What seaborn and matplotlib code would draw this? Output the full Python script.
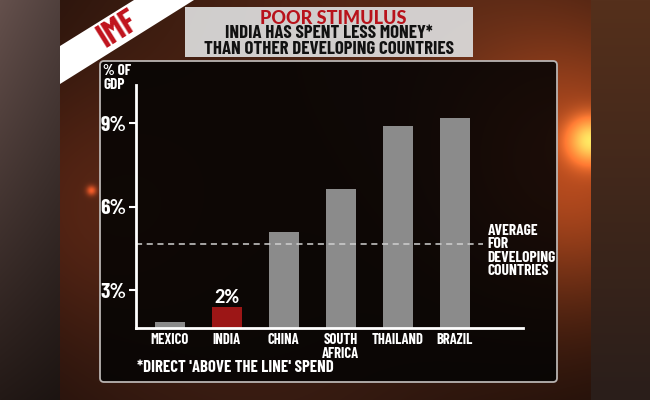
import numpy as np
import pandas as pd
import matplotlib
matplotlib.use("Agg")
import matplotlib.pyplot as plt
import seaborn as sns
from matplotlib.patches import FancyBboxPatch, Polygon, Rectangle

countries = ["MEXICO", "INDIA", "CHINA", "SOUTH\nAFRICA", "THAILAND", "BRAZIL"]
spend = [1.85, 2.39, 5.07, 6.62, 8.90, 9.19]
bar_colors = ["#8b8b8b", "#9c1616", "#8b8b8b", "#8b8b8b", "#8b8b8b", "#8b8b8b"]
average = 4.65
y_ticks = [3, 6, 9]
y_tick_labels = ["3%", "6%", "9%"]
india_label = "2%"

NARROW = ["Barlow Condensed", "Archivo Narrow", "DejaVu Sans"]
ROUND = ["Lato", "DejaVu Sans"]

W, H = 650, 400


def fx(x):
    return x / W


def fy(y):
    return 1 - y / H


sns.set_style("dark")
plt.rcParams["font.family"] = NARROW

fig = plt.figure(figsize=(6.5, 4), dpi=100)

# -------------------------
# background
# -------------------------
yy, xx = np.mgrid[0:H, 0:W]
img = np.zeros((H, W, 3))
img[:] = np.array([24, 12, 8]) / 255


def glow(cx, cy, r, color, strength):
    g = np.exp(-((xx - cx) ** 2 + (yy - cy) ** 2) / (2 * r ** 2))
    img[:] += strength * g[..., None] * np.array(color) / 255


glow(578, 170, 95, (170, 65, 20), 0.75)
glow(590, 140, 16, (255, 160, 70), 1.0)
glow(80, 210, 100, (85, 32, 15), 0.5)
glow(91, 190, 3.5, (230, 80, 30), 0.7)
glow(400, 0, 220, (130, 60, 30), 0.45)
glow(250, 400, 150, (60, 30, 20), 0.35)
img = np.clip(img, 0, 1)

left = np.linspace([100, 80, 76], [35, 25, 22], H)[:, None, :] / 255
img[:, :60] = left * np.linspace(1.0, 0.8, 60)[None, :, None]
right = np.linspace([85, 48, 28], [42, 30, 26], H)[:, None, :] / 255
img[:, 591:] = right
img = np.clip(img, 0, 1)

bg = fig.add_axes([0, 0, 1, 1])
bg.imshow(img, extent=[0, W, H, 0], aspect="auto")
bg.set_xlim(0, W)
bg.set_ylim(H, 0)
bg.axis("off")

# IMF stripe
stripe = Polygon([(60, 46), (134, 0), (194, 0), (60, 84)], closed=True,
                 facecolor="white", edgecolor="none")
bg.add_patch(stripe)
bg.text(118, 29, "IMF", color="#c0121c", fontsize=25, fontweight="bold",
        rotation=32, ha="center", va="center", family=NARROW)

# title box
bg.add_patch(Rectangle((185, 7), 288, 50, facecolor="#dcdcdc", alpha=0.93,
                       edgecolor="none"))
bg.text(333, 18, "POOR STIMULUS", color="#b8121b", fontsize=13,
        fontweight="black", ha="center", va="center", family=ROUND)
bg.text(328.5, 41.5, "INDIA HAS SPENT LESS MONEY*\nTHAN OTHER DEVELOPING COUNTRIES",
        color="#111111", fontsize=13.5, fontweight="bold", ha="center",
        va="center", multialignment="center", linespacing=0.92, family=NARROW)

# chart panel
bg.add_patch(FancyBboxPatch((100, 61), 457, 321,
                            boxstyle="round,pad=0,rounding_size=4",
                            facecolor="#050404", alpha=0.88, edgecolor="none"))
bg.add_patch(FancyBboxPatch((100, 61), 457, 321,
                            boxstyle="round,pad=0,rounding_size=4",
                            facecolor="none", edgecolor="#b9b4b2", linewidth=1.3))

bg.text(103, 78, "% OF\nGDP", color="white", fontsize=11, fontweight="bold",
        ha="left", va="center", linespacing=1.0, family=NARROW)
bg.text(137, 368, "*DIRECT 'ABOVE THE LINE' SPEND", color="white",
        fontsize=12, fontweight="bold", ha="left", va="center", family=NARROW)

# -------------------------
# bar chart
# -------------------------
ax = fig.add_axes([fx(136), fy(327.7), (523 - 136) / W, (327.7 - 85) / H])
ax.set_facecolor("none")

df = pd.DataFrame({"country": countries, "spend": spend})
sns.barplot(data=df, x="country", y="spend", hue="country",
            palette=bar_colors, legend=False, width=0.525, saturation=1,
            linewidth=0, ax=ax)

ax.set_xlim(-0.587, 6.19)
ax.set_ylim(1.645, 10.37)
ax.set_yticks(y_ticks)
ax.set_yticklabels(y_tick_labels)
ax.set_xlabel("")
ax.set_ylabel("")
ax.grid(False)

for side in ["top", "right"]:
    ax.spines[side].set_visible(False)
for side in ["left", "bottom"]:
    ax.spines[side].set_visible(True)
    ax.spines[side].set_color("white")
    ax.spines[side].set_linewidth(2)

ax.tick_params(axis="y", colors="white", length=5, width=1.5, direction="out",
               labelsize=15.5, pad=2, left=True)
ax.tick_params(axis="x", colors="white", length=0, labelsize=10.5, pad=4)
for lab in ax.get_yticklabels() + ax.get_xticklabels():
    lab.set_fontweight("bold")
    lab.set_linespacing(0.95)

ax.axhline(average, xmin=0, xmax=(483 - 136) / (523 - 136), color="#d0d0d0",
           linewidth=1.1, linestyle=(0, (4, 3)))
ax.text((487.5 - 136) / (523 - 136), 4.40,
        "AVERAGE\nFOR\nDEVELOPING\nCOUNTRIES", transform=ax.get_yaxis_transform(),
        color="white", fontsize=11.2, fontweight="bold", ha="left", va="center",
        linespacing=0.95, clip_on=False)

ax.annotate(india_label, xy=(1, spend[1]), xytext=(0, 1),
            textcoords="offset points", ha="center", va="bottom",
            color="white", fontsize=13, fontweight="black", family=ROUND)

fig.savefig("out.png", dpi=100)
